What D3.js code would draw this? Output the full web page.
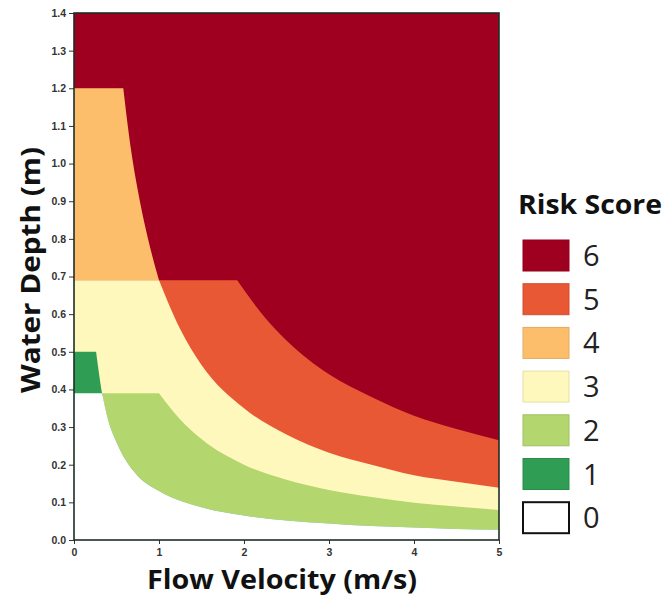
<!DOCTYPE html>
<html>
<head>
<meta charset="utf-8">
<script src="https://cdn.jsdelivr.net/npm/d3@7"></script>
<style>
  body { margin: 0; background: #fff; }
  svg { display: block; font-family: "Open Sans", "Noto Sans", sans-serif; }
</style>
</head>
<body>
<svg id="chart" width="664" height="598"></svg>
<script>
// risk scores, top of legend first
var riskScores = [6, 5, 4, 3, 2, 1, 0];
var riskColors = ['#a0001f', '#e95835', '#fdbe6c', '#fff8bd', '#b3d66e', '#2f9e54', '#ffffff'];

// depth caps (m)
var capHigh = 1.2;   // top of score 4 band
var capMid = 0.69;   // top of score 3 / 5 bands
var capOne = 0.5;    // top of score 1 block
var capLow = 0.39;   // top of score 2 band

// boundary curves: velocity (m/s) -> depth (m)
var edge56V = [1.92, 2.25, 2.5, 3.0, 3.5, 4.0, 4.5, 5.0];
var edge56D = [0.69, 0.59, 0.53, 0.44, 0.38, 0.33, 0.295, 0.265];

var edgeMidV = [0.58, 0.65, 0.75, 0.85, 1.0, 1.25, 1.5, 2.0, 2.5, 3.0, 3.5, 4.0, 4.5, 5.0];
var edgeMidD = [1.2, 1.07, 0.93, 0.82, 0.69, 0.56, 0.465, 0.35, 0.28, 0.232, 0.2, 0.172, 0.155, 0.139];

var edge23V = [1.0, 1.25, 1.5, 2.0, 2.5, 3.0, 3.5, 4.0, 4.5, 5.0];
var edge23D = [0.39, 0.32, 0.268, 0.2, 0.16, 0.133, 0.114, 0.099, 0.089, 0.08];

var edge02V = [0.26, 0.33, 0.4, 0.5, 0.6, 0.75, 1.0, 1.5, 2.0, 2.5, 3.0, 3.5, 4.0, 4.5, 5.0];
var edge02D = [0.5, 0.39, 0.32, 0.26, 0.215, 0.17, 0.13, 0.087, 0.065, 0.052, 0.044, 0.037, 0.033, 0.029, 0.027];

var xTicks = [0, 1, 2, 3, 4, 5];
var yTicks = [0, 0.1, 0.2, 0.3, 0.4, 0.5, 0.6, 0.7, 0.8, 0.9, 1.0, 1.1, 1.2, 1.3, 1.4];

var svg = d3.select('#chart');
var x = d3.scaleLinear().domain([0, 5]).range([74, 499]);
var y = d3.scaleLinear().domain([0, 1.4]).range([540, 13]);

var color = d3.scaleOrdinal().domain(riskScores).range(riskColors);

function pts(vs, ds) {
  return vs.map(function (v, i) { return [v, ds[i]]; });
}

var curveLine = d3.line()
  .x(function (d) { return x(d[0]); })
  .y(function (d) { return y(d[1]); })
  .curve(d3.curveMonotoneX);

// polygon: straight run in from the left at a cap, then along a curve
function bandPath(startPts, curvePts, endPts) {
  var head = startPts.map(function (p, i) {
    return (i ? 'L' : 'M') + x(p[0]) + ',' + y(p[1]);
  }).join('');
  var body = curveLine(curvePts).replace(/^M/, 'L');
  var tail = endPts.map(function (p) { return 'L' + x(p[0]) + ',' + y(p[1]); }).join('');
  return head + body + tail + 'Z';
}

var plot = svg.append('g');

// score 6 fills the whole field
plot.append('rect')
  .attr('x', x(0)).attr('y', y(1.4))
  .attr('width', x(5) - x(0)).attr('height', y(0) - y(1.4))
  .attr('fill', color(6));

var midPts = pts(edgeMidV, edgeMidD);
var upperMid = midPts.filter(function (p) { return p[1] >= capMid; });
var lowerMid = midPts.filter(function (p) { return p[1] <= capMid; });
var low02 = pts(edge02V, edge02D).filter(function (p) { return p[1] <= capLow; });

var bands = [
  { score: 4, d: bandPath([[0, capMid], [0, capHigh]], upperMid, []) },
  { score: 5, d: bandPath([[0, 0], [0, capMid]], pts(edge56V, edge56D), [[5, 0]]) },
  { score: 3, d: bandPath([[0, 0], [0, capMid]], lowerMid, [[5, 0]]) },
  { score: 2, d: bandPath([[0, 0], [0, capLow]], pts(edge23V, edge23D), [[5, 0]]) },
  { score: 1, d: bandPath([[0, 0], [0, capOne]], pts(edge02V, edge02D), [[5, 0]]) },
  { score: 0, d: bandPath([[0, 0], [0, capLow]], low02, [[5, 0]]) }
];

plot.selectAll('path.band')
  .data(bands)
  .enter()
  .append('path')
  .attr('class', 'band')
  .attr('d', function (b) { return b.d; })
  .attr('fill', function (b) { return color(b.score); });

// axes
var xAxis = svg.append('g')
  .attr('transform', 'translate(0,' + y(0) + ')')
  .call(d3.axisBottom(x).tickValues(xTicks).tickFormat(d3.format('d')).tickSize(4));
var yAxis = svg.append('g')
  .attr('transform', 'translate(' + x(0) + ',0)')
  .call(d3.axisLeft(y).tickValues(yTicks).tickFormat(d3.format('.1f')).tickSize(5));

[xAxis, yAxis].forEach(function (g) {
  g.select('.domain').remove();
  g.selectAll('line').attr('stroke', '#333');
  g.selectAll('text')
    .attr('fill', '#333')
    .style('font-size', '10.5px')
    .style('font-weight', '600');
});
xAxis.selectAll('text').attr('dy', '0.9em');

// frame
svg.append('rect')
  .attr('x', x(0)).attr('y', y(1.4))
  .attr('width', x(5) - x(0)).attr('height', y(0) - y(1.4))
  .attr('fill', 'none')
  .attr('stroke', '#1f2d26')
  .attr('stroke-width', 1.6);

// axis titles
svg.append('text')
  .attr('x', 282).attr('y', 589)
  .attr('text-anchor', 'middle')
  .attr('textLength', 270)
  .attr('lengthAdjust', 'spacingAndGlyphs')
  .style('font-size', '26px')
  .style('font-weight', '700')
  .attr('fill', '#111')
  .text('Flow Velocity (m/s)');

svg.append('text')
  .attr('transform', 'translate(40,270) rotate(-90)')
  .attr('text-anchor', 'middle')
  .attr('textLength', 246)
  .attr('lengthAdjust', 'spacingAndGlyphs')
  .style('font-size', '27px')
  .style('font-weight', '700')
  .attr('fill', '#111')
  .text('Water Depth (m)');

// legend
var legend = svg.append('g');
legend.append('text')
  .attr('x', 590).attr('y', 214)
  .attr('text-anchor', 'middle')
  .attr('textLength', 144)
  .attr('lengthAdjust', 'spacingAndGlyphs')
  .style('font-size', '26px')
  .style('font-weight', '700')
  .attr('fill', '#111')
  .text('Risk Score');

var items = legend.selectAll('g.item')
  .data(riskScores)
  .enter()
  .append('g')
  .attr('class', 'item')
  .attr('transform', function (d, i) { return 'translate(523,' + (240 + i * 43.7) + ')'; });

items.append('rect')
  .attr('width', 46).attr('height', 31)
  .attr('fill', function (d) { return color(d); })
  .attr('stroke', function (d) { return d === 0 ? '#111' : d3.color(color(d)).darker(0.3); })
  .attr('stroke-width', function (d) { return d === 0 ? 2 : 1; });

items.append('text')
  .attr('x', 60).attr('y', 26)
  .style('font-size', '29px')
  .attr('fill', '#222')
  .text(function (d) { return d; });
</script>
</body>
</html>
